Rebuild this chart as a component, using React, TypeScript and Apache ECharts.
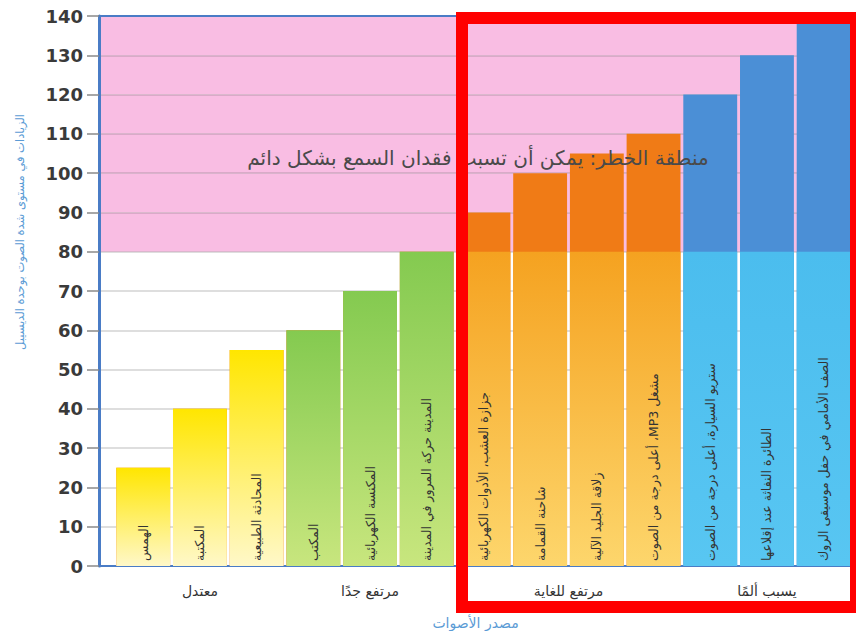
import React, { useEffect, useRef } from "react";
import * as echarts from "echarts";

const categories = [
  "الهمس",
  "المكتبة",
  "المحادثة الطبيعية",
  "المكتب",
  "المكنسة الكهربائية",
  "المدينة حركة المرور في المدينة",
  "جزازة العشب، الأدوات الكهربائية",
  "شاحنة القمامة",
  "زلاقة الجليد الآلية",
  "مشغل MP3، أعلى درجة من الصوت",
  "ستريو السيارة، أعلى درجة من الصوت",
  "الطائرة النفاثة عند إقلاعها",
  "الصف الأمامي في حفل موسيقى الروك",
];
const decibels = [25, 40, 55, 60, 70, 80, 90, 100, 105, 110, 120, 130, 140];
const groupOfBar = [0, 0, 0, 1, 1, 1, 2, 2, 2, 2, 3, 3, 3];
const groupNames = ["معتدل", "مرتفع جدًا", "مرتفع للغاية", "يسبب ألمًا"];
const groupCenters = [1, 4, 7.5, 11];
const dangerThreshold = 80;
const yTicks = [0, 10, 20, 30, 40, 50, 60, 70, 80, 90, 100, 110, 120, 130, 140];
const yAxisTitle = "الزيادات في مستوى شدة الصوت بوحدة الديسيبل";
const xAxisTitle = "مصدر الأصوات";
const dangerText = "منطقة الخطر: يمكن أن تسبب فقدان السمع بشكل دائم";

const lowerColors = [
  ["#ffe600", "#fff8c8"],
  ["#84ca50", "#c8e67e"],
  ["#f5a220", "#fdd66c"],
  ["#4bbdee", "#58c6f2"],
];
const upperColors = ["#f07b16", "#f07b16", "#f07b16", "#4b8fd6"];
const pink = "#f9bde3";

const rtl = (s: string) => "\u202B" + s + "\u202C";

function grad(top: string, bottom: string) {
  return new echarts.graphic.LinearGradient(0, 0, 0, 1, [
    { offset: 0, color: top },
    { offset: 1, color: bottom },
  ]);
}

export default function App() {
  const ref = useRef<HTMLDivElement>(null);
  useEffect(() => {
    if (!ref.current) return;
    const chart = echarts.init(ref.current, null, { renderer: "svg" });
    const font = "DejaVu Sans";
    const fullData = decibels.map((v, i) => ({
      value: [i, v],
      itemStyle: { color: upperColors[groupOfBar[i]] },
    }));
    const lowerData = decibels.map((v, i) => ({
      value: [i, Math.min(v, dangerThreshold)],
      itemStyle: { color: grad(lowerColors[groupOfBar[i]][0], lowerColors[groupOfBar[i]][1]) },
    }));
    const areaColors = yTicks.slice(0, -1).map((t) => (t >= dangerThreshold ? pink : "rgba(0,0,0,0)"));
    chart.setOption({
      animation: false,
      grid: { left: 99, right: 4, top: 16, bottom: 65, containLabel: false, outerBoundsMode: "none" },
      xAxis: [
        {
          type: "value",
          min: -0.78,
          max: 12.5,
          position: "bottom",
          axisLine: { show: true, onZero: false, lineStyle: { color: "#4a7cc6", width: 2 } },
          axisTick: { show: false },
          splitLine: { show: false },
          axisLabel: {
            show: true,
            customValues: groupCenters,
            formatter: (v: number) => groupNames[groupCenters.indexOf(v)] ?? "",
            margin: 18,
            color: "#333",
            fontSize: 14,
            fontFamily: font,
          },
          name: xAxisTitle,
          nameLocation: "middle",
          nameGap: 50,
          nameTextStyle: { color: "#5b9bd5", fontSize: 14, fontFamily: font },
        },
        {
          type: "value",
          min: -0.78,
          max: 12.5,
          position: "top",
          axisLine: { show: true, onZero: false, lineStyle: { color: "#4a7cc6", width: 2 } },
          axisTick: { show: false },
          axisLabel: { show: false },
          splitLine: { show: false },
        },
      ],
      yAxis: {
        type: "value",
        min: 0,
        max: 140,
        interval: 10,
        axisLine: { show: true, onZero: false, lineStyle: { color: "#4a7cc6", width: 3 } },
        axisTick: { show: true, length: 12, lineStyle: { color: "#8a8a8a", width: 1.5 } },
        axisLabel: {
          margin: 16,
          fontSize: 18,
          fontWeight: "bold",
          fontFamily: font,
          color: "#3a3a3a",
        },
        splitLine: { show: true, lineStyle: { color: "rgba(110,110,110,0.3)", width: 1.5 } },
        splitArea: { show: true, areaStyle: { color: areaColors } },
      },
      series: [
        {
          type: "bar",
          barWidth: "95%",
          barGap: "-100%",
          data: fullData,
          z: 2,
        },
        {
          type: "bar",
          barWidth: "95%",
          barGap: "-100%",
          data: lowerData,
          z: 3,
          label: {
            show: true,
            position: "insideBottom",
            rotate: 90,
            align: "left",
            verticalAlign: "middle",
            distance: 5,
            fontSize: 12.5,
            fontFamily: font,
            color: "#333",
            formatter: (p: any) => rtl(categories[p.dataIndex]),
          },
        },
      ],
      graphic: [
        {
          type: "text",
          x: 20,
          y: 232,
          rotation: Math.PI / 2,
          style: {
            text: rtl(yAxisTitle),
            fill: "#5b9bd5",
            fontSize: 11.5,
            fontFamily: font,
            textAlign: "center",
            textVerticalAlign: "middle",
          },
        },
        {
          type: "text",
          x: 478,
          y: 158,
          z: 50,
          style: {
            text: rtl(dangerText),
            fill: "#4a4a4a",
            fontSize: 20,
            fontFamily: font,
            textAlign: "center",
            textVerticalAlign: "middle",
          },
        },
        {
          type: "rect",
          z: 100,
          shape: { x: 462, y: 18, width: 394, height: 589 },
          style: { fill: "none", stroke: "#ff0000", lineWidth: 12 },
        },
      ],
    });
    return () => chart.dispose();
  }, []);
  return (
    <div
      ref={ref}
      style={{ position: "absolute", left: 0, top: 0, width: 856, height: 631, background: "#fff" }}
    />
  );
}
